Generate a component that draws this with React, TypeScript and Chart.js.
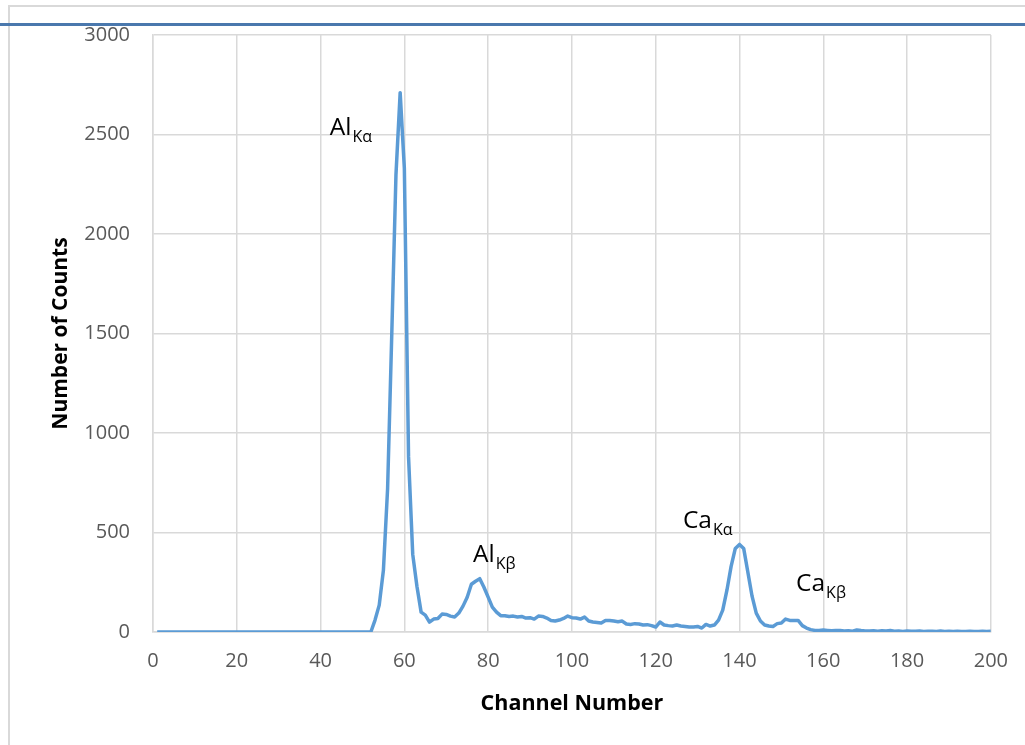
import React, { useEffect, useRef } from "react";
import { Chart, registerables } from "chart.js";

Chart.register(...registerables);

const channels: number[] = Array.from({ length: 200 }, (_, i) => i + 1);

const counts: number[] = [
  0, 0, 0, 0, 0, 0, 0, 0, 0, 0,
  0, 0, 0, 0, 0, 0, 0, 0, 0, 0,
  0, 0, 0, 0, 0, 0, 0, 0, 0, 0,
  0, 0, 0, 0, 0, 0, 0, 0, 0, 0,
  0, 0, 0, 0, 0, 0, 0, 0, 0, 0,
  0, 0, 60, 135, 310, 720, 1500, 2300, 2710, 2330,
  880, 390, 230, 100, 85, 50, 65, 68, 90, 88,
  80, 75, 95, 130, 175, 240, 255, 268, 225, 175,
  125, 100, 82, 82, 78, 80, 75, 78, 70, 72,
  65, 80, 78, 70, 58, 55, 60, 68, 80, 72,
  70, 65, 75, 55, 50, 48, 45, 58, 58, 55,
  52, 55, 40, 38, 42, 40, 35, 37, 32, 25,
  50, 35, 32, 30, 35, 30, 28, 25, 25, 28,
  20, 38, 30, 35, 60, 110, 210, 330, 420, 440,
  420, 300, 180, 95, 55, 35, 30, 28, 42, 45,
  65, 58, 58, 58, 32, 20, 12, 8, 8, 10,
  8, 6, 8, 7, 5, 6, 4, 10, 7, 5,
  5, 6, 4, 6, 5, 7, 4, 5, 3, 5,
  4, 4, 5, 3, 4, 4, 3, 5, 3, 4,
  3, 4, 3, 3, 4, 3, 3, 4, 3, 4,
];

const xTicks: number[] = [0, 20, 40, 60, 80, 100, 120, 140, 160, 180, 200];
const yTicks: number[] = [0, 500, 1000, 1500, 2000, 2500, 3000];

const peakNames: string[] = ["Al", "Al", "Ca", "Ca"];
const peakSubs: string[] = ["K\u03b1", "K\u03b2", "K\u03b1", "K\u03b2"];
const peakLabelX: number[] = [42.2, 76.4, 126.5, 153.5];
const peakLabelY: number[] = [2500, 352, 522, 206];

const FONT = "'Open Sans', 'DejaVu Sans', sans-serif";

const peakLabelPlugin = {
  id: "peakLabels",
  afterDatasetsDraw(chart: any) {
    const { ctx, scales } = chart;
    ctx.save();
    ctx.fillStyle = "#000000";
    ctx.textBaseline = "alphabetic";
    ctx.textAlign = "left";
    peakNames.forEach((name, i) => {
      const px = scales.x.getPixelForValue(peakLabelX[i]);
      const py = scales.y.getPixelForValue(peakLabelY[i]);
      ctx.font = `24.5px ${FONT}`;
      ctx.fillText(name, px, py);
      const w = ctx.measureText(name).width;
      ctx.font = `16px ${FONT}`;
      ctx.fillText(peakSubs[i], px + w + 1, py + 7);
    });
    ctx.restore();
  },
};

export default function App() {
  const canvasRef = useRef<HTMLCanvasElement | null>(null);

  useEffect(() => {
    if (!canvasRef.current) return;
    const chart = new Chart(canvasRef.current, {
      type: "line",
      data: {
        datasets: [
          {
            data: channels.map((c, i) => ({ x: c, y: counts[i] })),
            borderColor: "#5b9bd5",
            borderWidth: 3.5,
            pointRadius: 0,
            tension: 0,
            fill: false,
            borderJoinStyle: "round",
          },
        ],
      },
      options: {
        animation: false,
        responsive: false,
        maintainAspectRatio: false,
        layout: { padding: { left: 40, top: 34, right: 34, bottom: 20 } },
        plugins: {
          legend: { display: false },
          tooltip: { enabled: false },
        },
        scales: {
          x: {
            type: "linear",
            min: 0,
            max: 200,
            afterBuildTicks: (scale: any) => {
              scale.ticks = xTicks.map((v) => ({ value: v }));
            },
            afterFit: (scale: any) => {
              scale.height = 93;
            },
            ticks: {
              color: "#595959",
              font: { family: FONT, size: 20 },
              padding: 17,
              maxRotation: 0,
              autoSkip: false,
              callback: (v: any) => String(v),
            },
            grid: { color: "#d9d9d9", lineWidth: 1.5, drawTicks: false },
            border: { color: "#d9d9d9", width: 1.5 },
            title: {
              display: true,
              text: "Channel Number",
              color: "#000000",
              font: { family: FONT, size: 21.5, weight: "bold" },
              padding: { top: 0, bottom: 8 },
            },
          },
          y: {
            type: "linear",
            min: 0,
            max: 3000,
            afterBuildTicks: (scale: any) => {
              scale.ticks = yTicks.map((v) => ({ value: v }));
            },
            afterFit: (scale: any) => {
              scale.width = 113;
            },
            ticks: {
              color: "#595959",
              font: { family: FONT, size: 20 },
              padding: 23,
              callback: (v: any) => String(v),
            },
            grid: { color: "#d9d9d9", lineWidth: 1.5, drawTicks: false },
            border: { color: "#d9d9d9", width: 1.5 },
            title: {
              display: true,
              text: "Number of Counts",
              color: "#000000",
              font: { family: FONT, size: 21, weight: "bold" },
              padding: { top: 8, bottom: 0 },
            },
          },
        },
      },
      plugins: [peakLabelPlugin],
    });
    return () => chart.destroy();
  }, []);

  return (
    <div
      style={{
        position: "absolute",
        left: 0,
        top: 0,
        width: 1025,
        height: 745,
        background: "#ffffff",
        overflow: "hidden",
      }}
    >
      <div
        style={{
          position: "absolute",
          left: 8,
          top: 5,
          width: 1030,
          height: 760,
          borderLeft: "2px solid #d9d9d9",
          borderTop: "2px solid #d9d9d9",
        }}
      />
      <div
        style={{
          position: "absolute",
          left: 0,
          top: 23,
          width: 1025,
          height: 3,
          background: "#4a78ad",
        }}
      />
      <canvas
        ref={canvasRef}
        width={1025}
        height={745}
        style={{ position: "absolute", left: 0, top: 0, width: 1025, height: 745 }}
      />
    </div>
  );
}
